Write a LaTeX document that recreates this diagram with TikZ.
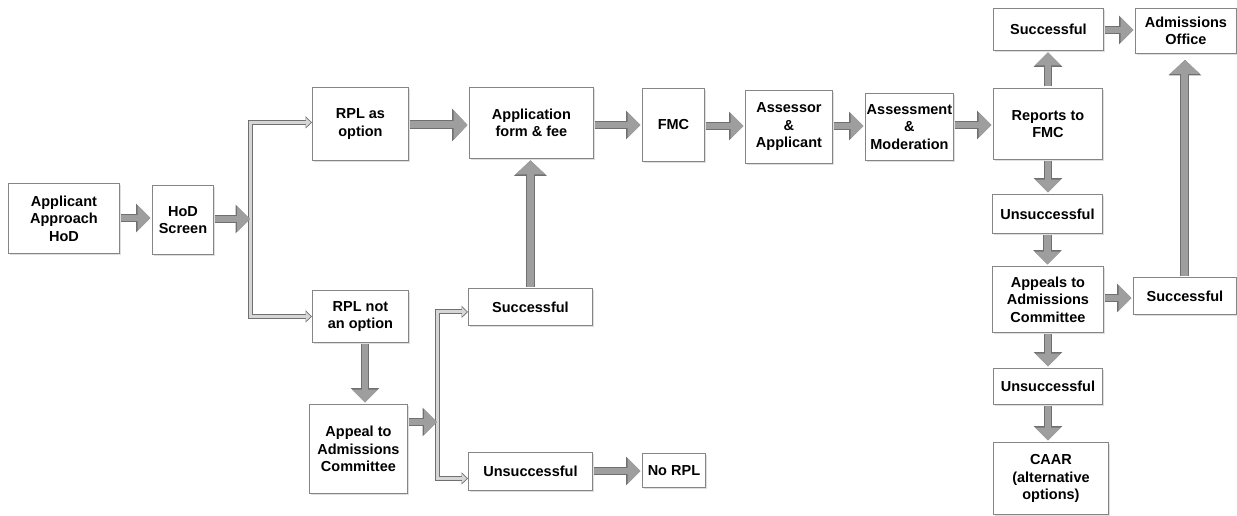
\documentclass[tikz,border=0pt]{standalone}
\usepackage{fontspec}
\setmainfont{Liberation Sans}
\usetikzlibrary{arrows.meta,shadows,calc}
\definecolor{boxline}{HTML}{858585}
\definecolor{arrfill}{HTML}{9E9E9E}
\definecolor{arrline}{HTML}{707070}
\definecolor{brfill}{HTML}{D6D6D6}
\tikzset{
  box/.style={draw=boxline, line width=0.9pt, fill=white, inner sep=0pt,
    align=center, anchor=north west,
    font=\fontsize{14.5}{17.5}\selectfont\bfseries,
    drop shadow={shadow xshift=1.5pt, shadow yshift=-1.5pt, opacity=0.25, fill=gray}},
  blockarrow/.style={line width=6.5pt, draw=arrfill, shorten <=1.5pt, shorten >=#1,
    -{Triangle[width=25pt,length=13pt]},
    preaction={draw=arrline, line width=8.5pt, shorten <=1.5pt, shorten >=#1,
      -{Triangle[width=28pt,length=14.5pt]}}},
  blockarrow/.default=1.5pt,
  bigarrow/.style={line width=7pt, draw=arrfill, shorten <=1.5pt, shorten >=#1,
    -{Triangle[width=29pt,length=14pt]},
    preaction={draw=arrline, line width=9pt, shorten <=1.5pt, shorten >=#1,
      -{Triangle[width=32pt,length=15.5pt]}}},
  bigarrow/.default=1.5pt,
  bracket/.style={line width=3pt, draw=brfill, shorten >=1.2pt,
    -{Triangle[width=9pt,length=5pt]},
    preaction={draw=arrline, line width=5pt, shorten >=0pt,
      -{Triangle[width=12pt,length=6.5pt]}}},
}
\begin{document}
\begin{tikzpicture}[x=1pt,y=-1pt]
\useasboundingbox (0,0) rectangle (1237,516);
% boxes
\node[box, minimum width=111pt, minimum height=70pt] (app) at (8,183) {Applicant\\Approach\\HoD};
\node[box, minimum width=61pt, minimum height=69pt] (hod) at (152,185) {HoD\\Screen};
\node[box, minimum width=96pt, minimum height=73pt] (rplopt) at (312,87) {RPL as\\option};
\node[box, minimum width=96pt, minimum height=52pt] (rplnot) at (312,290) {RPL not\\an option};
\node[box, minimum width=98pt, minimum height=89pt] (appeal) at (309,404) {Appeal to\\Admissions\\Committee};
\node[box, minimum width=124pt, minimum height=37pt] (succ1) at (468,288) {Successful};
\node[box, minimum width=124pt, minimum height=38pt] (unsucc1) at (468,452) {Unsuccessful};
\node[box, minimum width=63pt, minimum height=34pt] (norpl) at (642,453) {No RPL};
\node[box, minimum width=124pt, minimum height=71pt] (appform) at (469,87) {Application\\form \& fee};
\node[box, minimum width=62pt, minimum height=73pt] (fmc) at (642,88) {FMC};
\node[box, minimum width=87pt, minimum height=73pt] (assessor) at (745,90) {Assessor\\\&\\Applicant};
\node[box, minimum width=88pt, minimum height=67pt] (assess) at (865,93) {Assessment\\\&\\Moderation};
\node[box, minimum width=109pt, minimum height=71pt] (reports) at (993,88) {Reports to\\FMC};
\node[box, minimum width=110pt, minimum height=42pt] (succtop) at (993,8) {Successful};
\node[box, minimum width=101pt, minimum height=45pt] (admoff) at (1135,8) {Admissions\\Office};
\node[box, minimum width=110pt, minimum height=39pt] (unsucc2) at (992,194) {Unsuccessful};
\node[box, minimum width=111pt, minimum height=66pt] (appeals) at (992,266) {Appeals to\\Admissions\\Committee};
\node[box, minimum width=103pt, minimum height=37pt] (succright) at (1133,277) {Successful};
\node[box, minimum width=109pt, minimum height=36pt] (unsucc3) at (993,368) {Unsuccessful};
\node[box, minimum width=115pt, minimum height=72pt] (caar) at (993,442) {CAAR\\(alternative\\options)};
% split points
\coordinate (split1) at (250,219);
\coordinate (split2) at (437,422);
% brackets
\draw[bracket] (split1) |- ($(rplopt.west)+(0,-1.5)$);
\draw[bracket] (split1) |- (rplnot.west);
\draw[bracket] (split2) |- ($(succ1.west)+(0,5)$);
\draw[bracket] (split2) |- ($(unsucc1.west)+(0,7)$);
% block arrows
\draw[blockarrow] (app.east |- 0,218) -- (hod.west |- 0,218);
\draw[blockarrow=0pt] (hod.east |- split1) -- (split1);
\draw[bigarrow] (rplopt.east |- 0,125) -- (appform.west |- 0,125);
\draw[blockarrow] (appform.east |- 0,125) -- (fmc.west |- 0,125);
\draw[blockarrow] (fmc.east |- 0,126) -- (assessor.west |- 0,126);
\draw[blockarrow] (assessor.east |- 0,126) -- (assess.west |- 0,126);
\draw[blockarrow] (assess.east |- 0,125) -- (reports.west |- 0,125);
\draw[blockarrow] (reports.north) -- (reports.north |- succtop.south);
\draw[blockarrow] (succtop.east |- 0,30) -- (admoff.west |- 0,30);
\draw[blockarrow] (reports.south) -- (reports.south |- unsucc2.north);
\draw[blockarrow] (unsucc2.south) -- (unsucc2.south |- appeals.north);
\draw[blockarrow] (appeals.east |- 0,298) -- (succright.west |- 0,298);
\draw[bigarrow=6pt] (succright.north) -- (succright.north |- admoff.south);
\draw[blockarrow] (appeals.south) -- (appeals.south |- unsucc3.north);
\draw[blockarrow] (unsucc3.south) -- (unsucc3.south |- caar.north);
\draw[blockarrow] (365,0 |- rplnot.south) -- (365,0 |- appeal.north);
\draw[blockarrow=0pt] (appeal.east |- split2) -- (split2);
\draw[bigarrow] (succ1.north) -- (succ1.north |- appform.south);
\draw[blockarrow] (unsucc1.east |- 0,471) -- (norpl.west |- 0,471);
\end{tikzpicture}
\end{document}
